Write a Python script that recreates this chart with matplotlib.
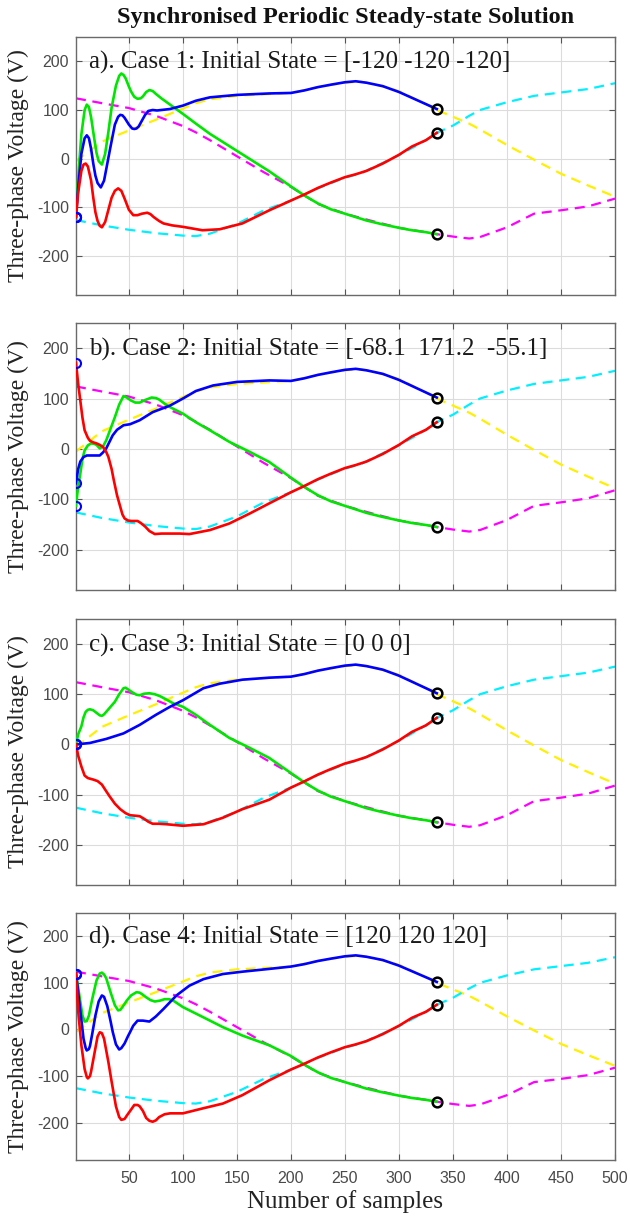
import numpy as np
import matplotlib
matplotlib.use('Agg')
from matplotlib import pyplot as plt

plt.rcParams['axes.unicode_minus'] = False

# REFERENCE WAVEFORMS (dashed, same in every case) ===========================
ref_x = [1, 25, 50, 75, 100, 112, 125, 150, 175, 200, 225, 250, 265, 275,
         300, 325, 335, 350, 365, 375, 400, 425, 450, 475, 500]
ref_yellow = [-5, 35, 58, 80, 103, 114, 122, 129, 132, 135, 147, 156, 158, 154,
              139, 112, 100, 86, 72, 60, 28, -2, -31, -55, -78]
ref_magenta = [124, 114, 104, 88, 67, 54, 38, 5, -28, -58, -93, -113, -122, -128,
               -142, -151, -155, -160, -164, -161, -141, -113, -106, -98, -82]
ref_cyan = [-126, -137, -146, -153, -158, -159, -154, -134, -106, -86, -61, -39, -30, -19,
            7, 38, 53, 68, 88, 100, 116, 129, 136, 143, 155]

# steady-state part of the estimated phases (identical for all cases)
tail_x = [200, 212, 225, 237, 250, 260, 270, 285, 300, 312, 325, 335]
tail_blue = [135, 140, 147, 152, 157, 159, 156, 149, 137, 125, 112, 102]
tail_green = [-57, -75, -92, -104, -113, -120, -127, -135, -142, -147, -151, -155]
tail_red = [-86, -74, -60, -49, -38, -32, -25, -10, 8, 25, 38, 53]

# CASE 1 transient ===========================================================
blue_a_x = [1, 3, 6, 9, 11, 13, 15, 17, 19, 21, 24, 27, 30, 33, 37, 40, 42, 44, 46, 50, 53, 55, 57, 59, 62, 65, 68, 72, 76, 88, 100, 112, 125, 150, 180]
blue_a_y = [-120, -60, 10, 42, 48, 42, 20, -10, -35, -50, -59, -45, -10, 25, 70, 86, 90, 89, 84, 70, 62, 61, 62, 66, 78, 90, 98, 100, 99, 102, 109, 119, 126, 131, 134]
green_a_x = [1, 3, 6, 9, 11, 13, 15, 18, 20, 22, 25, 28, 31, 34, 38, 41, 43, 45, 47, 50, 52, 55, 58, 61, 63, 66, 69, 72, 75, 80, 85, 100, 112, 125, 150, 180]
green_a_y = [-120, -40, 50, 100, 111, 106, 85, 40, 12, -5, -12, 10, 55, 105, 150, 170, 175, 172, 165, 148, 138, 127, 123, 124, 128, 137, 141, 139, 133, 124, 116, 92, 72, 51, 16, -26]
red_a_x = [1, 3, 6, 8, 10, 12, 15, 17, 19, 21, 23, 25, 28, 31, 34, 37, 40, 43, 46, 50, 54, 58, 62, 67, 70, 73, 78, 82, 90, 100, 118, 134, 155, 180]
red_a_y = [-120, -70, -25, -12, -10, -16, -45, -80, -110, -128, -138, -141, -130, -105, -80, -66, -61, -66, -82, -105, -116, -116, -113, -111, -114, -120, -128, -133, -137, -140, -147, -145, -133, -106]

# CASE 2 transient
blue_b_x = [1, 3, 5, 8, 11, 14, 18, 23, 26, 29, 32, 35, 39, 45, 51, 60, 72, 88, 100, 112, 128, 150, 180]
blue_b_y = [-68.1, -40, -25, -16, -13, -13, -13, -13, -7, 1, 14, 27, 38, 47, 49, 57, 73, 86, 100, 115, 126, 133, 136]
green_b_x = [1, 3, 5, 7, 9, 12, 15, 18, 20, 23, 26, 29, 33, 37, 41, 45, 48, 52, 56, 60, 65, 71, 75, 78, 83, 88, 100, 112, 125, 143, 162, 180]
green_b_y = [-113, -75, -49, -20, -3, 7, 11, 10, 8, 1, 5, 17, 40, 63, 88, 105, 102, 96, 92, 92, 97, 102, 101, 98, 90, 83, 70, 53, 37, 14, -6, -26]
red_b_x = [1, 3, 5, 7, 9, 12, 14, 17, 20, 23, 26, 29, 31, 34, 36, 39, 42, 44, 46, 49, 52, 55, 58, 61, 65, 69, 74, 80, 85, 97, 106, 125, 143, 162, 180]
red_b_y = [171.2, 130, 96, 62, 37, 22, 16, 13, 11, 8, 4, -6, -16, -40, -62, -92, -115, -130, -138, -142, -143, -143, -143, -147, -154, -163, -169, -168, -168, -168, -169, -161, -148, -128, -108]

# CASE 3 transient
blue_c_x = [1, 14, 29, 45, 60, 75, 88, 100, 119, 134, 155, 180]
blue_c_y = [0, 3, 11, 22, 39, 59, 75, 88, 112, 121, 129, 133]
green_c_x = [1, 3, 6, 8, 10, 12, 14, 17, 20, 23, 25, 27, 29, 33, 37, 41, 45, 47, 49, 53, 57, 60, 64, 69, 74, 79, 85, 91, 100, 112, 125, 143, 162, 180]
green_c_y = [0, 20, 36, 54, 65, 69, 70, 68, 63, 58, 57, 60, 65, 75, 85, 100, 112, 113, 110, 104, 99, 98, 101, 102, 100, 96, 89, 82, 75, 59, 39, 13, -7, -27]
red_c_x = [1, 3, 6, 9, 12, 17, 21, 25, 28, 32, 37, 42, 47, 51, 56, 60, 64, 68, 72, 78, 85, 100, 119, 137, 155, 180]
red_c_y = [0, -22, -44, -62, -67, -70, -73, -80, -90, -103, -118, -129, -137, -141, -142, -143, -148, -154, -158, -158, -159, -162, -159, -146, -129, -110]

# CASE 4 transient
blue_d_x = [1, 4, 6, 8, 10, 11, 13, 14, 16, 19, 22, 25, 27, 30, 33, 35, 38, 41, 43, 46, 49, 51, 54, 58, 63, 69, 75, 82, 94, 106, 119, 137, 155, 180]
blue_d_y = [120, 60, 20, -20, -40, -45, -42, -35, -10, 30, 60, 73, 70, 50, 18, -5, -32, -43, -40, -30, -15, -6, 8, 19, 19, 17, 28, 44, 73, 94, 108, 119, 124, 130]
green_d_x = [1, 4, 7, 9, 11, 13, 16, 20, 23, 25, 27, 29, 33, 37, 40, 42, 44, 48, 52, 57, 60, 62, 66, 70, 74, 79, 83, 87, 91, 100, 119, 137, 155, 180]
green_d_y = [120, 75, 30, 17, 18, 30, 65, 105, 120, 122, 118, 110, 80, 52, 41, 42, 48, 62, 73, 80, 79, 76, 69, 63, 60, 62, 65, 65, 62, 48, 26, 5, -13, -34]
red_d_x = [1, 3, 6, 9, 11, 12, 14, 15, 17, 19, 21, 23, 25, 27, 31, 34, 38, 41, 43, 46, 48, 52, 55, 58, 60, 63, 66, 69, 72, 75, 78, 83, 88, 100, 119, 137, 155, 180]
red_d_y = [120, 40, -34, -85, -102, -105, -100, -90, -65, -40, -15, -6, -8, -20, -70, -112, -165, -188, -194, -192, -185, -172, -162, -162, -165, -175, -190, -196, -198, -195, -188, -182, -180, -180, -169, -159, -141, -109]

case_labels = [
    'a). Case 1: Initial State = [-120 -120 -120]',
    'b). Case 2: Initial State = [-68.1  171.2  -55.1]',
    'c). Case 3: Initial State = [0 0 0]',
    'd). Case 4: Initial State = [120 120 120]',
]
cases = [
    (blue_a_x, blue_a_y, green_a_x, green_a_y, red_a_x, red_a_y),
    (blue_b_x, blue_b_y, green_b_x, green_b_y, red_b_x, red_b_y),
    (blue_c_x, blue_c_y, green_c_x, green_c_y, red_c_x, red_c_y),
    (blue_d_x, blue_d_y, green_d_x, green_d_y, red_d_x, red_d_y),
]
x_ticks = [50, 100, 150, 200, 250, 300, 350, 400, 450, 500]
y_ticks = [-200, -100, 0, 100, 200]

# =============================================================================
serif = 'Liberation Serif'
sans = 'Liberation Sans'
tick_col = '#4a4a4a'

fig = plt.figure(figsize=(6.3, 12.16), dpi=100)
rects = [
    [0.1206, 0.7574, 0.8556, 0.2122],
    [0.1206, 0.5148, 0.8556, 0.2196],
    [0.1206, 0.2722, 0.8556, 0.2188],
    [0.1206, 0.0461, 0.8556, 0.2031],
]

for k, (rect, data, label) in enumerate(zip(rects, cases, case_labels)):
    ax = fig.add_axes(rect)
    bx, by, gx, gy, rx, ry = data

    # dashed references
    dash = dict(lw=1.6, ls=(0, (4.5, 3)), zorder=2)
    ax.plot(ref_x, ref_yellow, color='#fff000', **dash)
    ax.plot(ref_x, ref_magenta, color='#ff00ff', **dash)
    ax.plot(ref_x, ref_cyan, color='#00f0ff', **dash)

    # estimated phases
    ax.plot(gx + tail_x, gy + tail_green, color='#00e600', lw=1.9, zorder=3)
    ax.plot(bx + tail_x, by + tail_blue, color='#0000ff', lw=1.9, zorder=4)
    ax.plot(rx + tail_x, ry + tail_red, color='#ff0000', lw=1.9, zorder=5)

    # initial and final states
    ax.plot([bx[0], gx[0], rx[0]], [by[0], gy[0], ry[0]], 'o', ms=6.5,
            mfc='none', mec='#0000ff', mew=1.5, zorder=6)
    ax.plot([tail_x[-1]] * 3, [tail_blue[-1], tail_green[-1], tail_red[-1]], 'o',
            ms=7, mfc='none', mec='black', mew=1.8, zorder=6)

    ax.text(13, 198, label, family=serif, fontsize=18, va='center', ha='left',
            color='#1a1a1a', zorder=7)

    ax.set_xlim(1, 500)
    ax.set_ylim(-280, 250)
    ax.set_xticks(x_ticks)
    ax.set_yticks(y_ticks)
    ax.grid(True, color='#dcdcdc', lw=0.8)
    ax.set_axisbelow(True)
    ax.tick_params(direction='in', top=True, right=True, length=4, pad=5,
                   color='#555555', labelsize=11.5, labelcolor=tick_col)
    ax.tick_params(axis='x', pad=8)
    for lab in ax.get_yticklabels() + ax.get_xticklabels():
        lab.set_family(sans)
    for sp in ax.spines.values():
        sp.set_color('#6a6a6a')
        sp.set_linewidth(1.0)
    ax.set_ylabel('Three-phase Voltage (V)', family=serif, fontsize=17, color='#222222')
    ax.yaxis.set_label_coords(-0.088, 0.5)
    if k < 3:
        ax.set_xticklabels([])
    else:
        ax.set_xlabel('Number of samples', family=serif, fontsize=18, color='#222222',
                      labelpad=3)

fig.text(0.549, 1 - 18 / 1216, 'Synchronised Periodic Steady-state Solution',
         family=serif, fontsize=17.5, fontweight='bold', ha='center', va='center',
         color='#111111')

fig.savefig('out.png', dpi=100)
